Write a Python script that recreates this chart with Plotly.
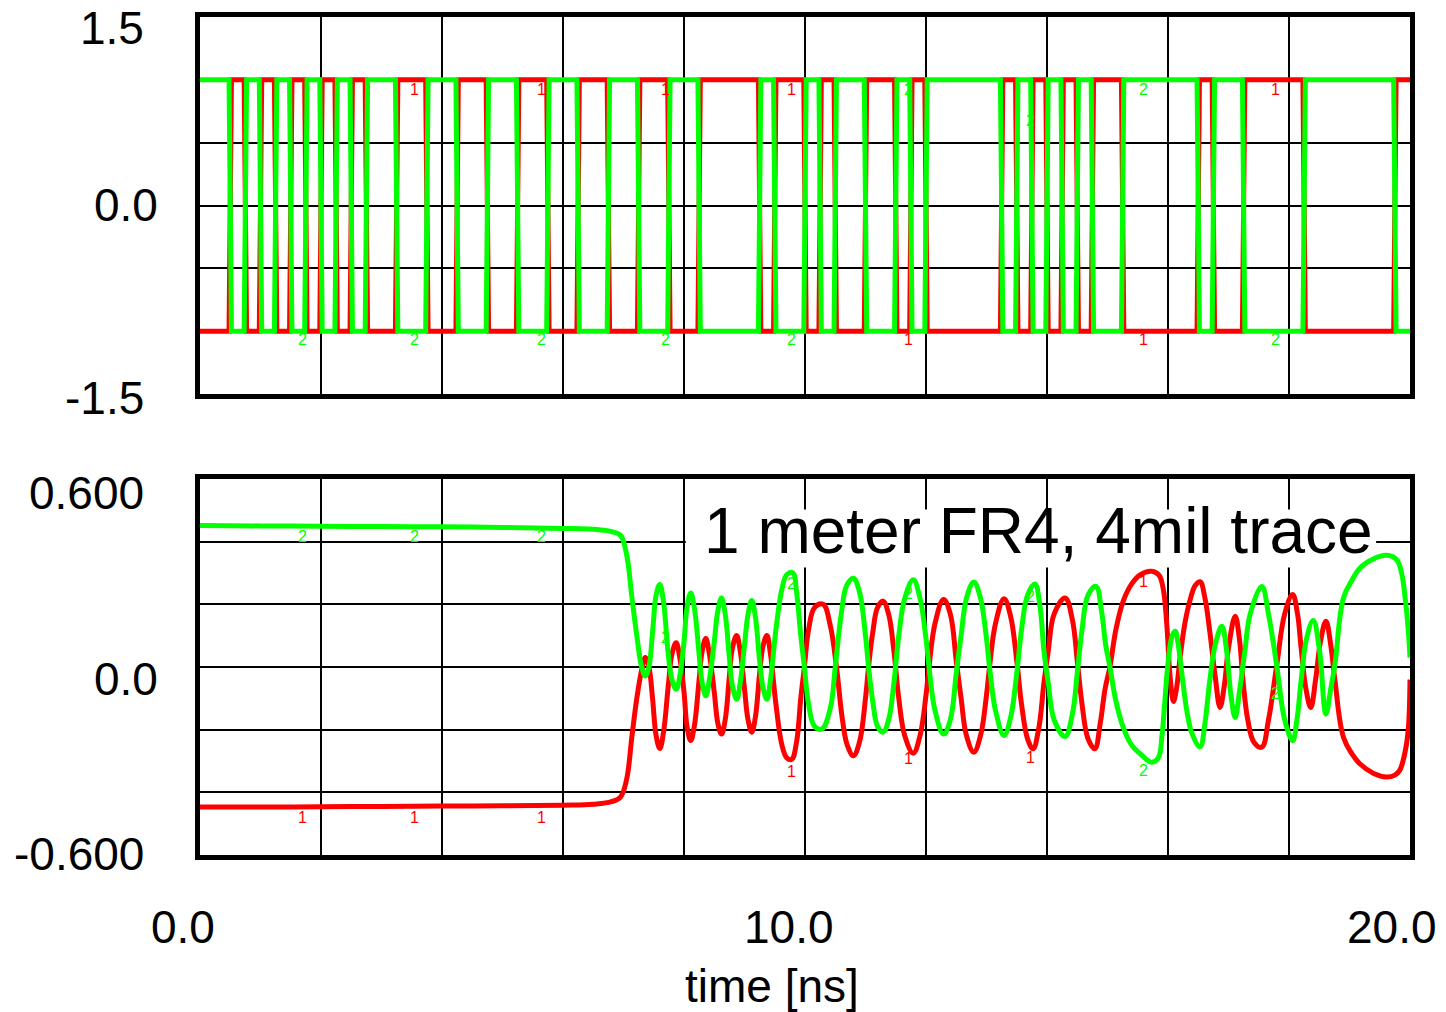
import plotly.graph_objects as go

# ---------------- data ----------------
# Top panel: driver output, red (1) starts low, green (2) is its complement.
tx_edges = [0.5, 0.75, 1.0, 1.25, 1.5, 1.75, 2.0, 2.25, 2.5, 2.75, 3.25, 3.75,
            4.25, 4.75, 5.25, 5.75, 6.25, 6.75, 7.25, 7.75, 8.25, 9.25, 9.5,
            10.0, 10.25, 10.5, 11.0, 11.5, 11.75, 12.0, 13.25, 13.5, 13.75,
            14.0, 14.25, 14.5, 14.75, 15.25, 16.5, 16.75, 17.25, 18.25, 19.75]
tx_high = 1.0
tx_low = -1.0
edge_time = 0.04
t_end = 20.0

# Bottom panel: received waveform after 1 m of FR4
rx1_t = [0.0, 1.0, 2.0, 3.0, 4.0, 5.0, 6.0, 6.5, 6.8, 6.95, 7.05, 7.14, 7.22, 7.30,
         7.36, 7.42, 7.48, 7.54, 7.60, 7.66, 7.74, 7.80, 7.87, 7.93, 8.0, 8.05,
         8.11, 8.17, 8.25, 8.30, 8.36, 8.42, 8.50, 8.56, 8.62, 8.68, 8.75, 8.80,
         8.87, 8.93, 9.0, 9.06, 9.12, 9.18, 9.25, 9.31, 9.37, 9.43, 9.52, 9.62,
         9.70, 9.78, 9.86, 9.93, 9.99, 10.06, 10.16, 10.30, 10.42, 10.52, 10.62,
         10.70, 10.80, 10.90, 11.0, 11.05, 11.12, 11.20, 11.29, 11.38, 11.47,
         11.55, 11.65, 11.79, 11.90, 12.0, 12.05, 12.15, 12.29, 12.40, 12.50,
         12.58, 12.67, 12.79, 12.90, 13.0, 13.05, 13.15, 13.29, 13.40, 13.50,
         13.58, 13.68, 13.77, 13.86, 13.95, 14.02, 14.12, 14.30, 14.42, 14.50,
         14.58, 14.68, 14.79, 14.88, 14.96, 15.04, 15.14, 15.26, 15.40, 15.54,
         15.73, 15.85, 15.92, 15.98, 16.03, 16.09, 16.14, 16.20, 16.28, 16.36,
         16.45, 16.53, 16.61, 16.69, 16.78, 16.86, 16.93, 17.0, 17.11, 17.18,
         17.24, 17.32, 17.42, 17.55, 17.66, 17.80, 17.93, 18.06, 18.14, 18.20,
         18.28, 18.36, 18.44, 18.52, 18.61, 18.69, 18.76, 18.90, 19.05, 19.17,
         19.40, 19.61, 19.75, 19.83, 19.92, 19.97, 20.0]
rx1_v = [-0.447, -0.447, -0.446, -0.445, -0.444, -0.443, -0.441, -0.438, -0.430,
         -0.415, -0.36, -0.22, -0.10, -0.01, 0.03, 0.0, -0.10, -0.22, -0.26,
         -0.21, -0.06, 0.04, 0.077, 0.03, -0.08, -0.19, -0.235, -0.19, -0.04,
         0.05, 0.091, 0.04, -0.08, -0.18, -0.214, -0.17, -0.03, 0.06, 0.10, 0.05,
         -0.07, -0.17, -0.208, -0.16, -0.02, 0.07, 0.10, 0.04, -0.12, -0.25,
         -0.29, -0.295, -0.24, -0.10, 0.0, 0.12, 0.19, 0.20, 0.13, 0.0, -0.17,
         -0.25, -0.283, -0.24, -0.10, 0.0, 0.11, 0.19, 0.21, 0.17, 0.05, -0.10,
         -0.22, -0.275, -0.22, -0.09, 0.0, 0.14, 0.215, 0.17, 0.02, -0.10, -0.22,
         -0.272, -0.22, -0.09, 0.0, 0.14, 0.218, 0.16, 0.02, -0.12, -0.23,
         -0.261, -0.20, -0.05, 0.05, 0.17, 0.22, 0.15, 0.02, -0.12, -0.23,
         -0.261, -0.18, -0.07, 0.0, 0.12, 0.21, 0.265, 0.294, 0.305, 0.293,
         0.25, 0.135, -0.02, -0.11, -0.07, 0.03, 0.14, 0.21, 0.26, 0.272, 0.22,
         0.114, -0.03, -0.129, -0.06, 0.06, 0.162, 0.09, -0.044, -0.17, -0.24,
         -0.256, -0.17, 0.009, 0.17, 0.231, 0.17, 0.061, -0.07, -0.129, -0.04,
         0.08, 0.146, 0.07, -0.044, -0.224, -0.28, -0.309, -0.34, -0.351,
         -0.345, -0.33, -0.27, -0.203, -0.04]

rx2_t = [0.0, 1.0, 2.0, 3.0, 4.0, 5.0, 6.0, 6.5, 6.8, 6.95, 7.05, 7.14, 7.22, 7.30,
         7.36, 7.42, 7.48, 7.54, 7.60, 7.66, 7.74, 7.80, 7.87, 7.93, 8.0, 8.05,
         8.11, 8.17, 8.25, 8.30, 8.36, 8.42, 8.50, 8.56, 8.62, 8.68, 8.75, 8.80,
         8.87, 8.93, 9.0, 9.06, 9.12, 9.18, 9.25, 9.31, 9.37, 9.43, 9.52, 9.62,
         9.70, 9.80, 9.86, 9.93, 9.99, 10.06, 10.16, 10.28, 10.42, 10.50, 10.60,
         10.69, 10.80, 10.90, 11.0, 11.05, 11.12, 11.20, 11.29, 11.38, 11.47,
         11.55, 11.65, 11.79, 11.90, 12.0, 12.05, 12.15, 12.29, 12.40, 12.50,
         12.58, 12.67, 12.79, 12.90, 13.0, 13.05, 13.15, 13.29, 13.40, 13.50,
         13.58, 13.68, 13.80, 13.88, 13.95, 14.02, 14.12, 14.30, 14.42, 14.50,
         14.58, 14.68, 14.81, 14.90, 14.97, 15.04, 15.14, 15.26, 15.40, 15.54,
         15.73, 15.84, 15.90, 15.94, 16.01, 16.07, 16.12, 16.17, 16.23, 16.32,
         16.40, 16.53, 16.61, 16.69, 16.78, 16.89, 16.97, 17.04, 17.11, 17.18,
         17.27, 17.36, 17.55, 17.66, 17.80, 17.93, 18.06, 18.13, 18.20, 18.29,
         18.40, 18.50, 18.61, 18.69, 18.76, 18.90, 19.05, 19.17, 19.40, 19.61,
         19.78, 19.86, 19.92, 19.97, 20.0]
rx2_v = [0.451, 0.450, 0.449, 0.448, 0.447, 0.445, 0.442, 0.439, 0.432, 0.42,
         0.36, 0.22, 0.10, 0.0, -0.029, 0.0, 0.11, 0.23, 0.263, 0.21, 0.04,
         -0.04, -0.071, -0.03, 0.08, 0.19, 0.236, 0.19, 0.04, -0.05, -0.092,
         -0.04, 0.08, 0.18, 0.22, 0.17, 0.03, -0.06, -0.103, -0.05, 0.07, 0.17,
         0.212, 0.16, 0.02, -0.07, -0.103, -0.04, 0.12, 0.25, 0.295, 0.30, 0.24,
         0.10, 0.0, -0.12, -0.19, -0.198, -0.13, 0.0, 0.17, 0.26, 0.283, 0.24,
         0.10, 0.0, -0.11, -0.19, -0.208, -0.17, -0.05, 0.10, 0.22, 0.278, 0.22,
         0.09, 0.0, -0.14, -0.214, -0.17, -0.02, 0.10, 0.22, 0.271, 0.22, 0.09,
         0.0, -0.14, -0.219, -0.16, -0.02, 0.12, 0.23, 0.265, 0.20, 0.05, -0.05,
         -0.17, -0.222, -0.15, -0.02, 0.12, 0.23, 0.257, 0.18, 0.07, 0.0, -0.11,
         -0.193, -0.25, -0.277, -0.304, -0.29, -0.22, -0.129, 0.03, 0.10, 0.114,
         0.07, -0.023, -0.15, -0.214, -0.255, -0.18, -0.044, 0.07, 0.13, 0.05,
         -0.09, -0.161, -0.08, 0.05, 0.17, 0.257, 0.17, 0.0, -0.17, -0.235,
         -0.17, -0.044, 0.09, 0.148, 0.06, -0.15, -0.07, 0.009, 0.22, 0.28,
         0.315, 0.345, 0.356, 0.342, 0.30, 0.22, 0.12, 0.03]

# Probe labels ("1" = red, "2" = green): (time, value, text)
top_labels = [(1.70, -1.063, "2"), (3.55, 0.92, "1"), (3.55, -1.063, "2"),
              (5.64, 0.92, "1"), (5.64, -1.063, "2"), (7.70, 0.92, "1"),
              (7.70, -1.063, "2"), (9.77, 0.92, "1"), (9.77, -1.063, "2"),
              (11.71, 0.92, "2"), (11.71, -1.063, "1"), (13.72, 0.68, "2"),
              (15.60, 0.92, "2"), (15.60, -1.063, "1"), (17.77, 0.92, "1"),
              (17.77, -1.063, "2")]
bottom_labels = [(1.70, 0.416, "2"), (1.70, -0.479, "1"), (3.55, 0.416, "2"),
                 (3.55, -0.479, "1"), (5.64, 0.416, "2"), (5.64, -0.479, "1"),
                 (7.70, 0.095, "2"), (9.77, 0.267, "2"), (9.77, -0.333, "1"),
                 (11.71, 0.235, "2"), (11.71, -0.292, "1"), (13.72, 0.225, "2"),
                 (13.72, -0.289, "1"), (15.60, 0.273, "1"), (15.60, -0.330, "2"),
                 (17.77, -0.086, "2")]

top_ticks = ["1.5", "0.0", "-1.5"]
bottom_ticks = ["0.600", "0.0", "-0.600"]
x_ticks = ["0.0", "10.0", "20.0"]
x_title = "time [ns]"
note = "1 meter FR4, 4mil trace"
note_box = dict(t0=8.03, t1=19.44, v0=0.317, v1=0.502)  # white backing behind the note

RED = "#ff0000"
GREEN = "#00ff00"
FONT = "Liberation Sans, Arial, sans-serif"
LW = 5

# ---------------- build step waveforms from the edges ----------------
def step_wave(start_level, other_level):
    xs, ys = [0.0], [start_level]
    lvl = start_level
    for e in tx_edges:
        nxt = other_level if lvl == start_level else start_level
        xs += [e - edge_time / 2, e + edge_time / 2]
        ys += [lvl, nxt]
        lvl = nxt
    xs.append(t_end)
    ys.append(lvl)
    return xs, ys

t1x, t1y = step_wave(tx_low, tx_high)
t2x, t2y = step_wave(tx_high, tx_low)

fig = go.Figure()
fig.add_trace(go.Scatter(x=t1x, y=t1y, mode="lines", line=dict(color=RED, width=LW),
                         xaxis="x", yaxis="y", showlegend=False))
fig.add_trace(go.Scatter(x=t2x, y=t2y, mode="lines", line=dict(color=GREEN, width=LW),
                         xaxis="x", yaxis="y", showlegend=False))
fig.add_trace(go.Scatter(x=rx1_t, y=rx1_v, mode="lines",
                         line=dict(color=RED, width=LW, shape="spline", smoothing=1.1),
                         xaxis="x2", yaxis="y2", showlegend=False))
fig.add_trace(go.Scatter(x=rx2_t, y=rx2_v, mode="lines",
                         line=dict(color=GREEN, width=LW, shape="spline", smoothing=1.1),
                         xaxis="x2", yaxis="y2", showlegend=False))

W, H = 1446, 1012
L, R, T, B = 200, 36, 15, 157
PW, PH = W - L - R, H - T - B


def px(xp):
    return (xp - L) / PW


def py(yp):
    return (H - B - yp) / PH


axis_common = dict(showline=True, linewidth=5, linecolor="black", mirror=True,
                   showgrid=True, gridcolor="black", gridwidth=2, zeroline=False,
                   showticklabels=False, ticks="", fixedrange=True)

fig.update_layout(
    width=W, height=H,
    margin=dict(l=L, r=R, t=T, b=B, pad=0),
    paper_bgcolor="white", plot_bgcolor="white",
    xaxis=dict(domain=[0, 1], anchor="y", range=[0, 20], dtick=2, **axis_common),
    yaxis=dict(domain=[py(393), 1], anchor="x", range=[-1.5, 1.5], dtick=0.5,
               **axis_common),
    xaxis2=dict(domain=[0, 1], anchor="y2", range=[0, 20], dtick=2, **axis_common),
    yaxis2=dict(domain=[0, py(478)], anchor="x2", range=[-0.6, 0.6], dtick=0.2,
                **axis_common),
)

ann = []
big = dict(family=FONT, size=46, color="black")
for txt, (xr, yc) in zip(top_ticks, [(146, 26), (160, 203), (146, 397)]):
    ann.append(dict(text=txt, x=px(xr), y=py(yc), xref="paper", yref="paper",
                    xanchor="right", yanchor="middle", showarrow=False, font=big))
for txt, (xr, yc) in zip(bottom_ticks, [(146, 492), (160, 679), (146, 854)]):
    ann.append(dict(text=txt, x=px(xr), y=py(yc), xref="paper", yref="paper",
                    xanchor="right", yanchor="middle", showarrow=False, font=big))
for txt, xc in zip(x_ticks, [183, 789, 1392]):
    ann.append(dict(text=txt, x=px(xc), y=py(927), xref="paper", yref="paper",
                    xanchor="center", yanchor="middle", showarrow=False, font=big))
ann.append(dict(text=x_title, x=px(772), y=py(986), xref="paper", yref="paper",
                xanchor="center", yanchor="middle", showarrow=False, font=big))
ann.append(dict(text=note, x=px(1038), y=py(530), xref="paper", yref="paper",
                xanchor="center", yanchor="middle", showarrow=False,
                font=dict(family=FONT, size=64, color="black")))

small = 16
for (t, v, s) in top_labels:
    ann.append(dict(text=s, x=t, y=v, xref="x", yref="y", showarrow=False,
                    xanchor="center", yanchor="middle",
                    font=dict(family=FONT, size=small, color=RED if s == "1" else GREEN)))
for (t, v, s) in bottom_labels:
    ann.append(dict(text=s, x=t, y=v, xref="x2", yref="y2", showarrow=False,
                    xanchor="center", yanchor="middle",
                    font=dict(family=FONT, size=small, color=RED if s == "1" else GREEN)))

fig.update_layout(annotations=ann)
fig.add_shape(type="rect", xref="x2", yref="y2",
              x0=note_box["t0"], x1=note_box["t1"],
              y0=note_box["v0"], y1=note_box["v1"],
              fillcolor="white", line=dict(width=0), layer="between")

fig.write_html("out.html")
